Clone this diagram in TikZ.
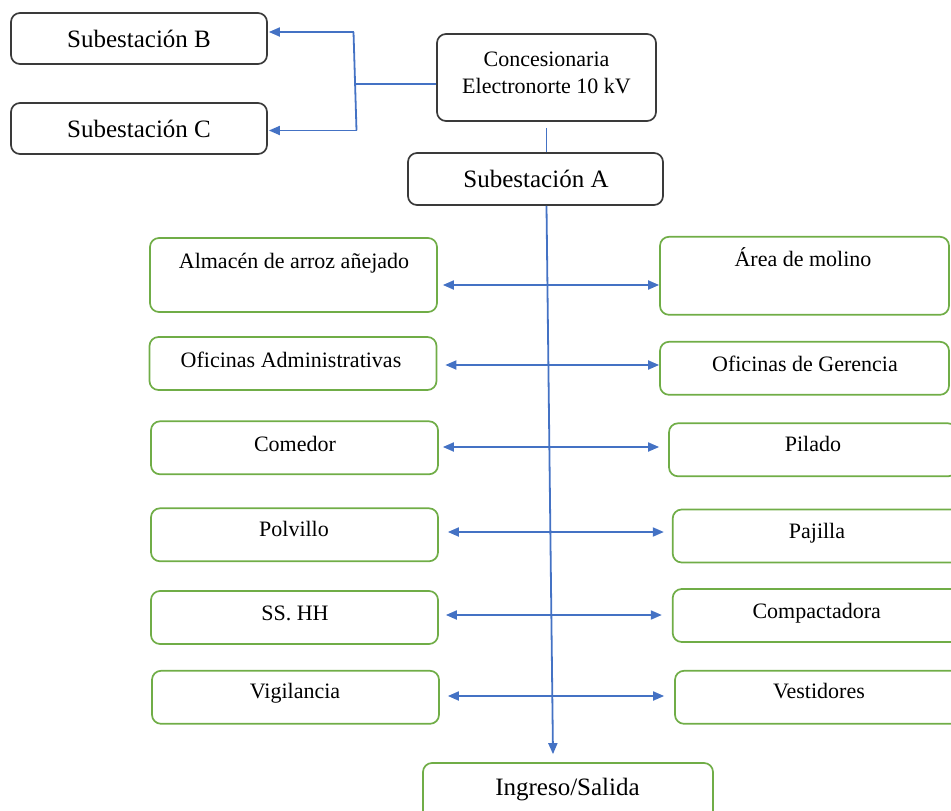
\documentclass[tikz,border=0pt]{standalone}
\usepackage{fontspec}
\setmainfont{Liberation Serif}
\usetikzlibrary{arrows.meta}
\definecolor{linkblue}{HTML}{4472C4}
\definecolor{zonegreen}{HTML}{70AD47}
\definecolor{mainedge}{HTML}{3A3A3A}

\begin{document}
\begin{tikzpicture}[x=1pt,y=-1pt,
  darkbox/.style={draw=mainedge, line width=1.7pt, rounded corners=9pt, inner sep=0pt},
  greenbox/.style={draw=zonegreen, line width=1.7pt, rounded corners=9pt, inner sep=0pt,
                   minimum width=287pt, minimum height=53pt},
  bigtxt/.style={font=\fontsize{25}{28}\selectfont, inner sep=0pt, anchor=base},
  midtxt/.style={font=\fontsize{22}{27.3}\selectfont, inner sep=0pt, align=center},
  smalltxt/.style={font=\fontsize{22}{26}\selectfont, inner sep=0pt, anchor=mid, yshift=-4pt},
  link/.style={draw=linkblue, line width=1.8pt},
  arr/.style={link, -{Triangle[length=11pt,width=9pt]}},
  twoway/.style={link, {Triangle[length=11pt,width=9pt]}-{Triangle[length=11pt,width=9pt]}}
]
\useasboundingbox (0,0) rectangle (951,811);

% --- supply and substations
\node[darkbox, minimum width=256pt, minimum height=51pt] (subB) at (139,38.5) {};
\node[bigtxt] (tB) at (139,47.2) {Subestación B};
\node[darkbox, minimum width=256pt, minimum height=51pt] (subC) at (139,128.5) {};
\node[bigtxt] (tC) at (139,137.2) {Subestación C};
\node[darkbox, minimum width=219pt, minimum height=87pt] (conc) at (546.5,77.5) {};
\node[midtxt] (tconc) at (546.5,73) {Concesionaria\\Electronorte 10 kV};
\node[darkbox, minimum width=255pt, minimum height=52pt] (subA) at (535.5,179) {};
\node[bigtxt] (tA) at (536,187.2) {Subestación A};

% --- areas on the left
\node[greenbox, minimum height=74pt] (alm) at (293.5,275) {};
\node[smalltxt] (talm) at (294,262) {Almacén de arroz añejado};
\node[greenbox] (ofadm) at (293,363.5) {};
\node[smalltxt] (tofadm) at (291,361) {Oficinas Administrativas};
\node[greenbox] (com) at (294.5,447.8) {};
\node[smalltxt] (tcom) at (295,445) {Comedor};
\node[greenbox] (pol) at (294.5,534.8) {};
\node[smalltxt] (tpol) at (294,530) {Polvillo};
\node[greenbox] (ss) at (294.5,617.5) {};
\node[smalltxt] (tss) at (295,614) {SS. HH};
\node[greenbox] (vig) at (295.5,697.3) {};
\node[smalltxt] (tvig) at (295,692) {Vigilancia};

% --- areas on the right
\node[greenbox, minimum width=289pt, minimum height=78pt] (mol) at (804.5,275.8) {};
\node[smalltxt] (tmol) at (803,260) {Área de molino};
\node[greenbox, minimum width=289pt] (ger) at (804.5,368.3) {};
\node[smalltxt] (tger) at (805,365.7) {Oficinas de Gerencia};
\node[greenbox, minimum width=288pt] (pil) at (813,449.8) {};
\node[smalltxt] (tpil) at (813,445) {Pilado};
\node[greenbox, minimum width=288pt] (paj) at (816.7,536) {};
\node[smalltxt] (tpaj) at (817,532) {Pajilla};
\node[greenbox, minimum width=288pt] (comp) at (816.7,615.5) {};
\node[smalltxt] (tcomp) at (816.7,611.7) {Compactadora};
\node[greenbox, minimum width=288pt] (vest) at (819,697.3) {};
\node[smalltxt] (tvest) at (819,692) {Vestidores};

% --- entrance
\node[greenbox, minimum width=290pt, minimum height=60pt] (ing) at (568,793) {};
\node[bigtxt] (ting) at (567.5,795) {Ingreso/Salida};

% --- feed to substations B and C
\coordinate (jb) at (353.5,32);
\coordinate (jc) at (356.5,130.5);
\coordinate (jm) at (356,84);
\draw[link] ([yshift=-6.5pt]conc.west) -- (jm);
\draw[link] (jb) -- (jc);
\draw[arr] (jb) -- ([xshift=1pt]subB.east |- jb);
\draw[arr] (jc) -- ([xshift=1pt]subC.east |- jc);

% --- feed to substation A and main distribution line
\draw[link] ([yshift=-6pt]conc.south) -- (conc.south |- subA.north);
\draw[arr] ([xshift=11pt]subA.south) -- ([xshift=-15pt,yshift=8pt]ing.north);

% --- branches to each area
\coordinate (r1) at (0,285);
\coordinate (r2) at (0,365);
\coordinate (r3) at (0,447);
\coordinate (r4) at (0,532);
\coordinate (r5) at (0,615);
\coordinate (r6) at (0,696);
\draw[twoway] ([xshift=5pt]alm.east |- r1) -- (mol.west |- r1);
\draw[twoway] ([xshift=8pt]ofadm.east |- r2) -- (ger.west |- r2);
\draw[twoway] ([xshift=4pt]com.east |- r3) -- ([xshift=-9pt]pil.west |- r3);
\draw[twoway] ([xshift=9pt]pol.east |- r4) -- ([xshift=-8pt]paj.west |- r4);
\draw[twoway] ([xshift=7pt]ss.east |- r5) -- ([xshift=-10pt]comp.west |- r5);
\draw[twoway] ([xshift=8pt]vig.east |- r6) -- ([xshift=-10pt]vest.west |- r6);
\end{tikzpicture}
\end{document}
